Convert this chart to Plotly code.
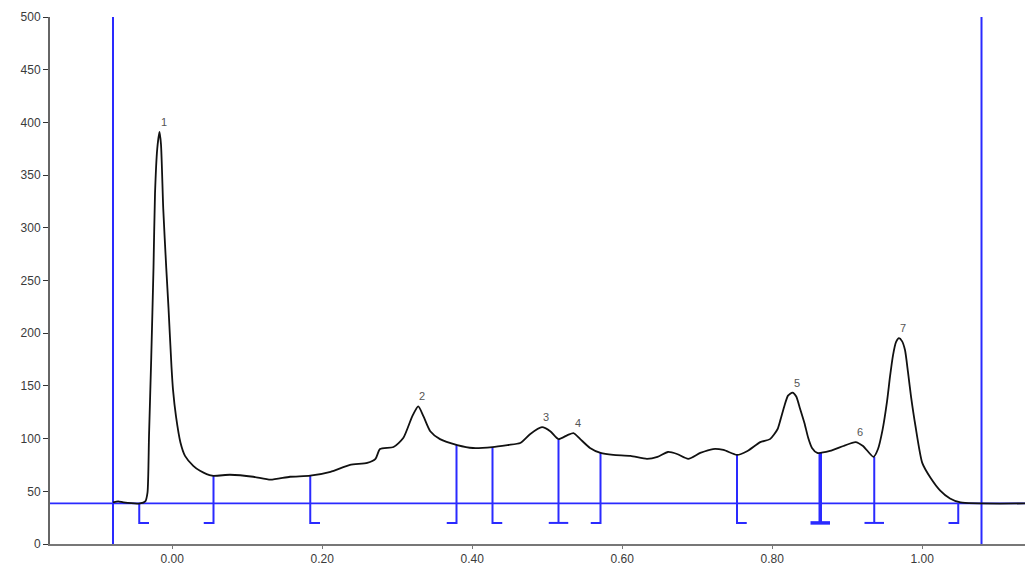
import plotly.graph_objects as go

# Chromatogram trace (x = relative position, y = signal)
trace_x = [-0.079, -0.072, -0.065, -0.043, -0.036, -0.033, -0.031, -0.028, -0.025, -0.023,
           -0.020, -0.017, -0.015, -0.012, -0.008, -0.005, -0.001, 0.001, 0.005, 0.011,
           0.017, 0.028, 0.037, 0.053, 0.077, 0.108, 0.131, 0.157, 0.184, 0.211,
           0.237, 0.260, 0.271, 0.277, 0.295, 0.308, 0.320, 0.328, 0.335, 0.344,
           0.357, 0.380, 0.401, 0.427, 0.447, 0.464, 0.477, 0.493, 0.504, 0.515,
           0.527, 0.535, 0.544, 0.557, 0.571, 0.588, 0.611, 0.633, 0.647, 0.661,
           0.673, 0.688, 0.704, 0.721, 0.735, 0.753, 0.767, 0.784, 0.797, 0.807,
           0.811, 0.816, 0.821, 0.827, 0.832, 0.837, 0.843, 0.848, 0.853, 0.860,
           0.877, 0.895, 0.911, 0.921, 0.935, 0.941, 0.947, 0.953, 0.957, 0.961,
           0.965, 0.969, 0.973, 0.977, 0.981, 0.985, 0.991, 1.000, 1.011, 1.024,
           1.037, 1.051, 1.137]
trace_y = [39.4, 40.4, 39.4, 38.5, 40.4, 48.8, 102, 177, 262, 332,
           375, 391, 379, 318, 262, 224, 168, 146.5, 121, 96,
           83.6, 74.2, 69.5, 64.8, 65.7, 63.8, 61.0, 63.8, 64.8, 68.5,
           75.1, 77.0, 80.8, 90.1, 92.0, 100.5, 121.1, 130.5, 121.1, 107,
           99.5, 93.9, 91.1, 92.0, 93.9, 95.8, 104.2, 110.8, 107, 99.5,
           103.3, 105.2, 99.5, 91.1, 86.4, 84.5, 83.6, 80.8, 82.6, 87.3,
           85.4, 80.8, 86.4, 90.1, 89.2, 84.5, 88.3, 96.7, 99.5, 108.9,
           118.0, 130.5, 140.8, 143.7, 140.0, 128.6, 114.6, 100.5, 91.1, 86.4,
           88.3, 93.0, 96.7, 93.0, 82.6, 90.1, 108.0, 135.0, 158.7, 179.0,
           191.5, 195.3, 192.5, 184.0, 163.0, 140.0, 111.7, 77.0, 62.9, 50.7,
           43.2, 39.4, 38.5]

# Peak labels
peak_names = ["1", "2", "3", "4", "5", "6", "7"]
peak_x = [-0.017, 0.328, 0.493, 0.535, 0.827, 0.911, 0.969]
peak_y = [391, 130.5, 110.8, 105.2, 143.7, 96.7, 195.3]

# Integration boundaries: position, top value, foot type
bound_x = [-0.044, 0.055, 0.184, 0.379, 0.427, 0.515, 0.571, 0.753, 0.864, 0.936, 1.048]
bound_top = [38.5, 64.8, 64.8, 93.9, 92.0, 99.5, 86.4, 84.5, 86.4, 82.6, 38.5]
bound_type = ["L", "J", "L", "J", "L", "T", "J", "L", "T", "T", "J"]
bound_bottom = 20

baseline_level = 38.5
window_x = [-0.079, 1.079]

x_ticks = [0.0, 0.2, 0.4, 0.6, 0.8, 1.0]
x_ticktext = ["0.00", "0.20", "0.40", "0.60", "0.80", "1.00"]
y_ticks = [0, 50, 100, 150, 200, 250, 300, 350, 400, 450, 500]

BLUE = "#2a2aff"
foot = 0.013

fig = go.Figure()

# window lines
for wx in window_x:
    fig.add_trace(go.Scatter(x=[wx, wx], y=[0, 500], mode="lines",
                             line=dict(color=BLUE, width=2), hoverinfo="skip", showlegend=False))

# baseline
fig.add_trace(go.Scatter(x=[-0.163, 1.137], y=[baseline_level, baseline_level], mode="lines",
                         line=dict(color=BLUE, width=1.6), hoverinfo="skip", showlegend=False))

# boundaries
for bx, bt, ty in zip(bound_x, bound_top, bound_type):
    if ty == "L":
        xs = [bx, bx, bx + foot]
        ys = [bt, bound_bottom, bound_bottom]
    elif ty == "J":
        xs = [bx, bx, bx - foot]
        ys = [bt, bound_bottom, bound_bottom]
    else:
        xs = [bx, bx, None, bx - foot, bx + foot]
        ys = [bt, bound_bottom, None, bound_bottom, bound_bottom]
    w = 3.5 if abs(bx - 0.864) < 1e-6 else 2
    fig.add_trace(go.Scatter(x=xs, y=ys, mode="lines", line=dict(color=BLUE, width=w),
                             hoverinfo="skip", showlegend=False))

# trace
fig.add_trace(go.Scatter(x=trace_x, y=trace_y, mode="lines",
                         line=dict(color="#111111", width=1.8, shape="spline", smoothing=0.6),
                         showlegend=False))

for name, px, py in zip(peak_names, peak_x, peak_y):
    fig.add_annotation(x=px, y=py, text=name, showarrow=False, xshift=4, yshift=10,
                       font=dict(family="Liberation Sans, Arial", size=11, color="#555555"))

fig.update_layout(
    width=1025, height=566,
    margin=dict(l=50, r=0, t=17, b=17),
    plot_bgcolor="white", paper_bgcolor="white",
    font=dict(family="Liberation Sans, Arial", size=12, color="#3a3a3a"),
    xaxis=dict(range=[-0.163, 1.137], tickvals=x_ticks, ticktext=x_ticktext,
               showgrid=False, zeroline=False, showline=True, linecolor="#777777", linewidth=2,
               ticks="outside", ticklen=3, tickcolor="#777777"),
    yaxis=dict(range=[0, 500], tickvals=y_ticks, showgrid=False, zeroline=False,
               showline=True, linecolor="#666666", linewidth=2,
               ticks="outside", ticklen=5, tickcolor="#333333"),
)

fig.write_html("out.html")
